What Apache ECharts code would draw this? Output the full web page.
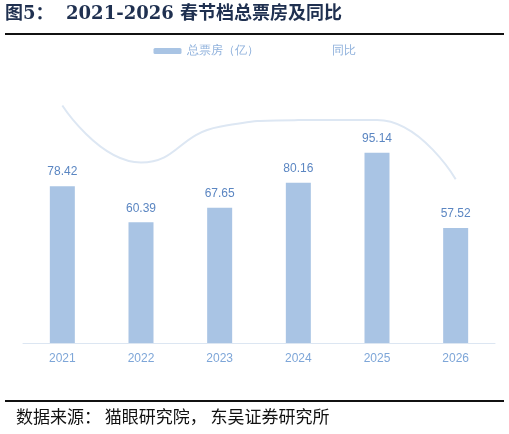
<!DOCTYPE html>
<html><head><meta charset="utf-8">
<script src="https://cdn.jsdelivr.net/npm/echarts@6/dist/echarts.min.js"></script>
<style>html,body{margin:0;padding:0;background:#fff}#c{width:509px;height:434px}</style>
</head><body><div id="c"></div>
<script>
const years = ['2021','2022','2023','2024','2025','2026'];
const boxOffice = [78.42, 60.39, 67.65, 80.16, 95.14, 57.52];
const yoy = [32.8, -23.0, 12.0, 18.5, 18.7, -39.5];
const chart = echarts.init(document.getElementById('c'));
chart.setOption({
  animation:false,
  graphic:[
    {type:'text',left:5,top:5,style:{text:'图5：  2021-2026 春节档总票房及同比',font:'bold 18px "DejaVu Serif","Noto Sans CJK SC",serif',fill:'#1f3050'}},
    {type:'line',shape:{x1:5,y1:34,x2:504,y2:34},style:{stroke:'#111',lineWidth:2}},
    {type:'line',shape:{x1:5,y1:401,x2:504,y2:401},style:{stroke:'#111',lineWidth:2}},
    {type:'text',left:16,top:408,style:{text:'数据来源： 猫眼研究院， 东吴证券研究所',font:'17px "Noto Sans CJK SC",serif',fill:'#111'}}
  ],
  legend:{top:40,left:'center',itemGap:40,itemWidth:28,itemHeight:6,
    textStyle:{color:'#8fb1dc',fontSize:12},
    data:[{name:'总票房（亿）'},{name:'同比',icon:'path://M0,0H26V1H0Z'}]},
  grid:{left:23,right:14,top:63,bottom:91},
  xAxis:{type:'category',data:years,axisTick:{show:false},
    axisLine:{lineStyle:{color:'#dce6f2',width:1}},
    axisLabel:{color:'#7ea6d8',fontSize:12,margin:10}},
  yAxis:[{type:'value',min:0,max:140,show:false,splitLine:{show:false}},
         {type:'value',min:-200,max:74.5,show:false,splitLine:{show:false}}],
  series:[
    {name:'总票房（亿）',type:'bar',data:boxOffice,barWidth:25,itemStyle:{color:'#a9c4e4'},
     label:{show:true,position:'top',color:'#5b86c2',fontSize:12,distance:8}},
    {name:'同比',type:'line',yAxisIndex:1,data:yoy,smooth:true,symbol:'circle',symbolSize:1,showSymbol:true,
     lineStyle:{color:'#dde7f3',width:2},itemStyle:{color:'#dde7f3',opacity:0},
     label:{show:true,position:'top',distance:14,color:'#5b86c2',fontSize:12,formatter:p=>p.value.toFixed(1)+'%'}}
  ]
});
</script></body></html>
